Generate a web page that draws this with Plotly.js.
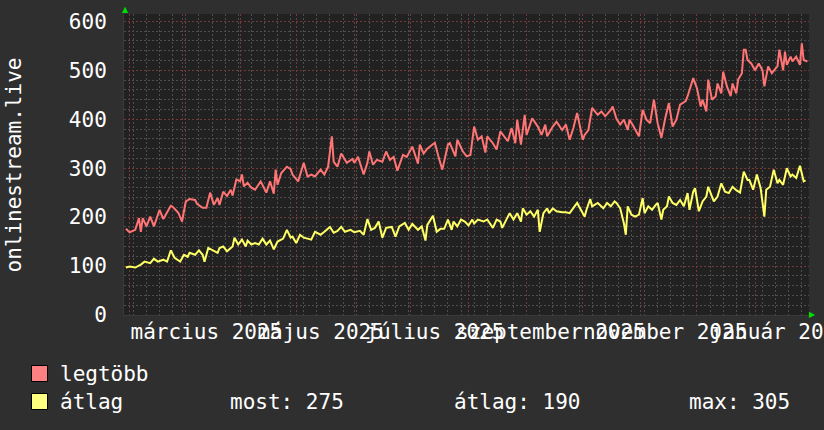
<!DOCTYPE html>
<html>
<head>
<meta charset="utf-8">
<script src="https://cdn.plot.ly/plotly-3.0.1.min.js"></script>
<style>
  html, body { margin: 0; padding: 0; background: #2f2f2f; }
  #chart { width: 824px; height: 430px; }
</style>
</head>
<body>
<div id="chart"></div>
<script>
// ---- data ----
const seriesNames = ["legtöbb", "átlag"];
const yAxisTitle = "onlinestream.live";

const datesMax = ["2025-01-30","2025-02-01","2025-02-04","2025-02-06","2025-02-07","2025-02-08","2025-02-10","2025-02-12","2025-02-14","2025-02-16","2025-02-17","2025-02-19","2025-02-23","2025-02-24","2025-02-27","2025-03-01","2025-03-03","2025-03-05","2025-03-08","2025-03-09","2025-03-12","2025-03-14","2025-03-16","2025-03-18","2025-03-20","2025-03-21","2025-03-23","2025-03-25","2025-03-27","2025-03-28","2025-03-30","2025-04-01","2025-04-02","2025-04-03","2025-04-05","2025-04-07","2025-04-09","2025-04-12","2025-04-13","2025-04-15","2025-04-17","2025-04-19","2025-04-20","2025-04-21","2025-04-23","2025-04-26","2025-04-28","2025-04-29","2025-05-02","2025-05-05","2025-05-07","2025-05-09","2025-05-11","2025-05-14","2025-05-16","2025-05-18","2025-05-20","2025-05-21","2025-05-23","2025-05-25","2025-05-28","2025-05-31","2025-06-01","2025-06-03","2025-06-06","2025-06-08","2025-06-09","2025-06-11","2025-06-13","2025-06-16","2025-06-18","2025-06-20","2025-06-22","2025-06-24","2025-06-27","2025-06-29","2025-07-02","2025-07-05","2025-07-06","2025-07-08","2025-07-10","2025-07-14","2025-07-16","2025-07-18","2025-07-21","2025-07-22","2025-07-25","2025-07-26","2025-07-29","2025-07-31","2025-08-02","2025-08-04","2025-08-06","2025-08-08","2025-08-10","2025-08-11","2025-08-14","2025-08-16","2025-08-18","2025-08-21","2025-08-22","2025-08-24","2025-08-26","2025-08-27","2025-08-29","2025-08-31","2025-09-01","2025-09-04","2025-09-07","2025-09-09","2025-09-11","2025-09-12","2025-09-15","2025-09-17","2025-09-20","2025-09-22","2025-09-24","2025-09-26","2025-09-28","2025-10-01","2025-10-02","2025-10-04","2025-10-06","2025-10-09","2025-10-11","2025-10-13","2025-10-16","2025-10-17","2025-10-19","2025-10-21","2025-10-23","2025-10-25","2025-10-26","2025-10-28","2025-10-31","2025-11-02","2025-11-04","2025-11-06","2025-11-08","2025-11-10","2025-11-12","2025-11-14","2025-11-16","2025-11-18","2025-11-20","2025-11-22","2025-11-25","2025-11-26","2025-11-29","2025-12-01","2025-12-03","2025-12-04","2025-12-06","2025-12-07","2025-12-09","2025-12-11","2025-12-12","2025-12-14","2025-12-15","2025-12-17","2025-12-19","2025-12-20","2025-12-22","2025-12-23","2025-12-25","2025-12-26","2025-12-27","2025-12-28","2025-12-30","2026-01-01","2026-01-03","2026-01-05","2026-01-06","2026-01-08","2026-01-10","2026-01-12","2026-01-13","2026-01-14","2026-01-16","2026-01-17","2026-01-18","2026-01-20","2026-01-21","2026-01-23","2026-01-25","2026-01-26","2026-01-27","2026-01-29"];
const valuesMax = [176,169,174,198,170,198,181,201,181,205,215,196,223,221,209,191,232,237,235,227,219,219,250,225,239,225,252,243,256,244,277,273,287,263,270,260,256,273,266,250,273,248,297,266,290,303,298,287,273,311,283,287,283,297,287,303,365,313,303,330,311,319,311,323,287,311,334,307,317,313,334,317,323,295,327,323,344,309,348,330,340,352,323,297,348,351,324,358,334,324,327,385,358,365,332,365,351,338,375,358,355,382,351,399,348,409,368,402,385,368,389,365,385,395,378,389,358,382,413,358,368,378,423,409,416,406,419,426,401,389,399,378,399,386,365,419,399,392,440,392,362,401,433,385,399,430,437,447,484,463,426,440,416,481,440,447,473,453,497,467,447,473,453,481,494,542,542,521,514,500,514,500,467,508,494,504,508,542,500,538,511,528,518,528,511,555,521,518];

const datesAvg = ["2025-01-30","2025-02-01","2025-02-04","2025-02-07","2025-02-09","2025-02-12","2025-02-14","2025-02-16","2025-02-19","2025-02-21","2025-02-23","2025-02-25","2025-02-28","2025-03-02","2025-03-04","2025-03-05","2025-03-08","2025-03-10","2025-03-12","2025-03-13","2025-03-15","2025-03-18","2025-03-20","2025-03-21","2025-03-23","2025-03-25","2025-03-28","2025-03-29","2025-03-31","2025-04-02","2025-04-04","2025-04-05","2025-04-07","2025-04-09","2025-04-11","2025-04-13","2025-04-15","2025-04-17","2025-04-19","2025-04-21","2025-04-24","2025-04-26","2025-04-28","2025-04-29","2025-05-01","2025-05-03","2025-05-05","2025-05-07","2025-05-09","2025-05-11","2025-05-14","2025-05-16","2025-05-19","2025-05-21","2025-05-23","2025-05-25","2025-05-27","2025-05-30","2025-06-01","2025-06-04","2025-06-06","2025-06-08","2025-06-10","2025-06-12","2025-06-14","2025-06-16","2025-06-18","2025-06-21","2025-06-23","2025-06-25","2025-06-28","2025-06-30","2025-07-02","2025-07-05","2025-07-07","2025-07-09","2025-07-10","2025-07-13","2025-07-15","2025-07-17","2025-07-19","2025-07-21","2025-07-23","2025-07-24","2025-07-26","2025-07-28","2025-07-30","2025-08-01","2025-08-03","2025-08-04","2025-08-06","2025-08-09","2025-08-11","2025-08-14","2025-08-16","2025-08-18","2025-08-19","2025-08-22","2025-08-23","2025-08-25","2025-08-27","2025-08-29","2025-08-30","2025-09-01","2025-09-03","2025-09-05","2025-09-07","2025-09-08","2025-09-10","2025-09-12","2025-09-13","2025-09-15","2025-09-17","2025-09-20","2025-09-22","2025-09-24","2025-09-26","2025-09-28","2025-09-30","2025-10-02","2025-10-03","2025-10-05","2025-10-06","2025-10-09","2025-10-12","2025-10-14","2025-10-16","2025-10-18","2025-10-19","2025-10-21","2025-10-23","2025-10-24","2025-10-25","2025-10-27","2025-10-29","2025-10-31","2025-11-02","2025-11-03","2025-11-05","2025-11-07","2025-11-09","2025-11-10","2025-11-12","2025-11-13","2025-11-15","2025-11-16","2025-11-18","2025-11-20","2025-11-22","2025-11-24","2025-11-26","2025-11-27","2025-11-29","2025-11-30","2025-12-02","2025-12-04","2025-12-06","2025-12-07","2025-12-10","2025-12-12","2025-12-14","2025-12-16","2025-12-18","2025-12-20","2025-12-22","2025-12-24","2025-12-26","2025-12-28","2025-12-29","2025-12-31","2026-01-02","2026-01-04","2026-01-06","2026-01-07","2026-01-09","2026-01-11","2026-01-13","2026-01-14","2026-01-16","2026-01-18","2026-01-20","2026-01-21","2026-01-23","2026-01-25","2026-01-27","2026-01-28"];
const valuesAvg = [97,99,97,103,109,106,115,109,113,109,132,117,109,123,119,127,123,132,123,109,137,132,127,137,140,130,140,158,144,154,140,152,144,147,144,156,144,152,134,150,156,174,158,160,147,164,158,156,154,170,164,170,180,168,172,180,170,174,169,172,164,196,174,178,191,158,178,180,160,181,188,174,186,174,181,152,184,203,170,176,176,195,174,191,181,195,191,183,195,187,195,191,195,178,195,191,178,201,208,195,208,191,218,205,212,201,215,170,208,218,208,218,212,210,210,208,218,229,215,201,215,237,222,229,218,229,222,232,229,218,187,164,222,205,201,205,239,208,222,215,225,229,195,215,222,242,229,225,235,222,249,215,252,259,212,232,242,262,232,242,269,252,249,262,255,250,293,276,276,256,287,259,201,256,262,297,269,276,266,300,283,287,280,305,273,275];

// x-axis labels (bimonthly, centred mid-month as rrdtool does)
const xLabelDates = ["2025-03-14","2025-05-14","2025-07-14","2025-09-14","2025-11-14","2026-01-14"];
const xLabelTexts = ["március 2025","május 2025","július 2025","szeptember 2025","november 2025","január 2026"];

// legend statistics (GPRINT lines)
const statTexts = ["most: 275", "átlag: 190", "max: 305"];

// ---- styling ----
const FONT = "DejaVu Sans Mono";
const FS = 21;
const bgOuter = "#2f2f2f";
const bgPlot = "#212121";
const colMax = "#ff7575";
const colAvg = "#ffff66";
const gridMajor = "#743838";
const gridMinor = "#4e4e4e";
const xRange = ["2025-01-29 00:00", "2026-01-29 20:00"];
const yRange = [0, 615];

const W = 824, H = 430;
const M = {l: 124, r: 15, t: 14, b: 115};
const pw = W - M.l - M.r, ph = H - M.t - M.b;
const px = x => (x - M.l) / pw;          // pixel -> paper x
const py = y => (H - M.b - y) / ph;      // pixel -> paper y

const traces = [
  {x: datesMax, y: valuesMax, name: seriesNames[0], type: "scatter", mode: "lines",
   line: {color: colMax, width: 2}, xaxis: "x", yaxis: "y", hoverinfo: "skip"},
  {x: datesAvg, y: valuesAvg, name: seriesNames[1], type: "scatter", mode: "lines",
   line: {color: colAvg, width: 2}, xaxis: "x2", yaxis: "y", hoverinfo: "skip"}
];

const annotations = [
  {text: yAxisTitle, xref: "paper", yref: "paper", x: px(13), y: 0.5, textangle: -90,
   showarrow: false, xanchor: "center", yanchor: "middle", font: {family: FONT, size: FS, color: "#ffffff"}},
  {text: seriesNames[0], xref: "paper", yref: "paper", x: px(58), y: py(374), xanchor: "left", yanchor: "middle",
   showarrow: false, font: {family: FONT, size: FS, color: "#ffffff"}},
  {text: seriesNames[1], xref: "paper", yref: "paper", x: px(58), y: py(402), xanchor: "left", yanchor: "middle",
   showarrow: false, font: {family: FONT, size: FS, color: "#ffffff"}},
  {text: statTexts[0], xref: "paper", yref: "paper", x: px(228), y: py(402), xanchor: "left", yanchor: "middle",
   showarrow: false, font: {family: FONT, size: FS, color: "#ffffff"}},
  {text: statTexts[1], xref: "paper", yref: "paper", x: px(452), y: py(402), xanchor: "left", yanchor: "middle",
   showarrow: false, font: {family: FONT, size: FS, color: "#ffffff"}},
  {text: statTexts[2], xref: "paper", yref: "paper", x: px(687), y: py(402), xanchor: "left", yanchor: "middle",
   showarrow: false, font: {family: FONT, size: FS, color: "#ffffff"}},
  {text: "▲", xref: "paper", yref: "paper", x: px(125), y: py(10), xanchor: "center", yanchor: "middle",
   showarrow: false, font: {family: "DejaVu Sans", size: 8, color: "#00dd00"}},
  {text: "▶", xref: "paper", yref: "paper", x: px(812), y: py(314), xanchor: "center", yanchor: "middle",
   showarrow: false, font: {family: "DejaVu Sans", size: 8, color: "#00dd00"}}
];

const shapes = [
  {type: "rect", xref: "paper", yref: "paper", x0: px(31.5), x1: px(47.5), y0: py(381.5), y1: py(365.5),
   fillcolor: "#ff8080", line: {color: "#000000", width: 1}},
  {type: "rect", xref: "paper", yref: "paper", x0: px(31.5), x1: px(47.5), y0: py(409.5), y1: py(393.5),
   fillcolor: "#ffff80", line: {color: "#000000", width: 1}}
];

const layout = {
  width: W, height: H,
  margin: M,
  paper_bgcolor: bgOuter,
  plot_bgcolor: bgPlot,
  showlegend: false,
  font: {family: FONT, size: FS, color: "#ffffff"},
  xaxis: {
    type: "date", range: xRange, fixedrange: true,
    tickmode: "linear", tick0: "2025-02-01", dtick: "M1",
    showticklabels: false, ticks: "",
    showgrid: true, gridcolor: gridMajor, griddash: "2px,2px", gridwidth: 1,
    minor: {tickmode: "linear", tick0: "2025-01-27", dtick: 7 * 86400000,
            showgrid: true, gridcolor: gridMinor, griddash: "2px,2px", gridwidth: 1},
    zeroline: false, showline: true, linecolor: "#3a3a3a", linewidth: 1
  },
  xaxis2: {
    type: "date", range: xRange, overlaying: "x", anchor: "y", side: "bottom", fixedrange: true,
    tickmode: "array", tickvals: xLabelDates, ticktext: xLabelTexts,
    tickangle: 0, ticklabeloverflow: "allow",
    showgrid: false, ticks: "", ticklabelstandoff: 2,
    tickfont: {family: FONT, size: FS, color: "#ffffff"}, zeroline: false
  },
  yaxis: {
    range: yRange, fixedrange: true,
    tickmode: "linear", tick0: 0, dtick: 100,
    showgrid: true, gridcolor: gridMajor, griddash: "2px,2px", gridwidth: 1,
    minor: {tickmode: "linear", tick0: 0, dtick: 20, showgrid: true, gridcolor: gridMinor,
            griddash: "2px,2px", gridwidth: 1},
    ticks: "", ticklabelstandoff: 12,
    tickfont: {family: FONT, size: FS, color: "#ffffff"},
    zeroline: false, showline: true, linecolor: "#3a3a3a", linewidth: 1
  },
  annotations: annotations,
  shapes: shapes
};

Plotly.newPlot("chart", traces, layout, {staticPlot: true, displayModeBar: false});
</script>
</body>
</html>
